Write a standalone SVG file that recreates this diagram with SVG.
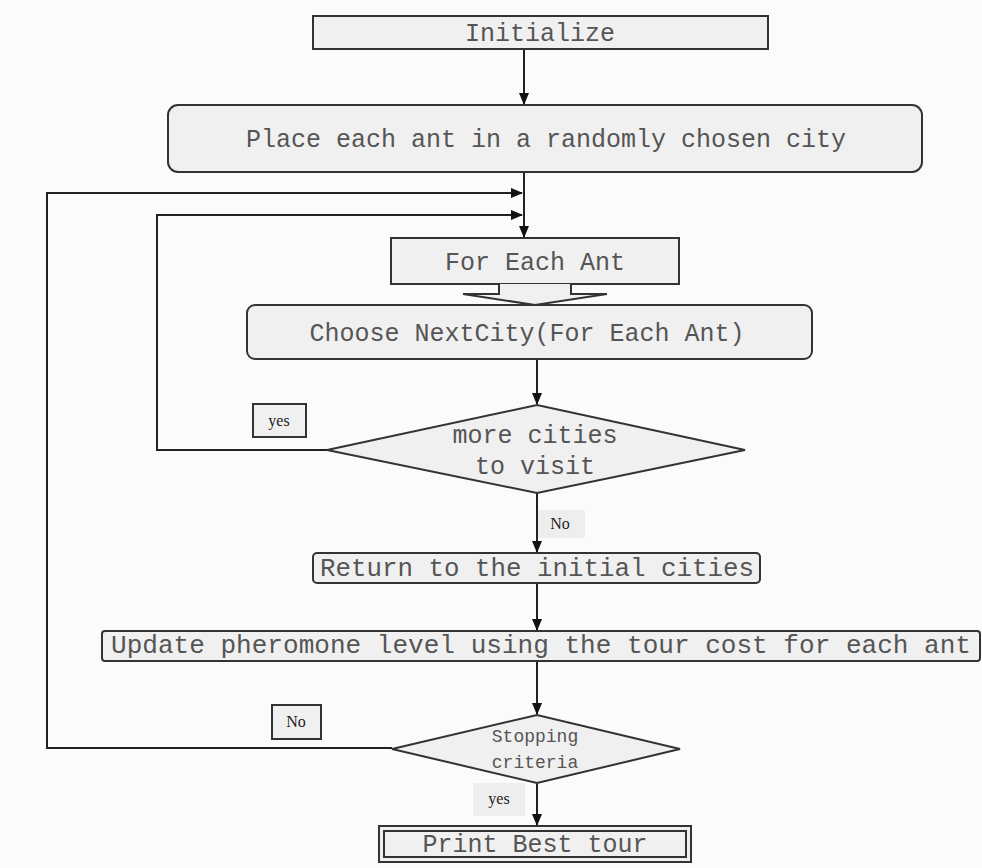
<svg xmlns="http://www.w3.org/2000/svg" width="982" height="868" viewBox="0 0 982 868">
<defs>
<marker id="ah" markerWidth="12" markerHeight="10" refX="11" refY="5" orient="auto" markerUnits="userSpaceOnUse">
<path d="M0,0 L12,5 L0,10 Z" fill="#111"/>
</marker>
<style>
.box{fill:#f0f0f0;stroke:#333;stroke-width:2}
.t{font-family:"Liberation Mono","Courier New",monospace;fill:#555;text-anchor:middle}
.lbl{font-family:"Liberation Serif","Times New Roman",serif;font-size:16px;fill:#222;text-anchor:middle}
.c{fill:none;stroke:#222;stroke-width:2}
</style>
</defs>
<rect width="982" height="868" fill="#fbfbfb"/>
<g id="connectors">
<path class="c" d="M524,49 V104" marker-end="url(#ah)"/>
<path class="c" d="M524,172 V237" marker-end="url(#ah)"/>
<path class="c" d="M392,748 H47 V193 H522" marker-end="url(#ah)"/>
<path class="c" d="M327,450 H157 V215 H522" marker-end="url(#ah)"/>
<path class="c" d="M537,359 V404" marker-end="url(#ah)"/>
<path class="c" d="M537,493 V552" marker-end="url(#ah)"/>
<path class="c" d="M537,583 V630" marker-end="url(#ah)"/>
<path class="c" d="M537,661 V714" marker-end="url(#ah)"/>
<path class="c" d="M537,783 V825" marker-end="url(#ah)"/>
</g>
<g id="initialize">
<rect class="box" x="313" y="16" width="455" height="33"/>
<text class="t" x="540" y="41" font-size="25">Initialize</text>
</g>
<g id="place">
<rect class="box" x="168" y="105" width="754" height="67" rx="10"/>
<text class="t" x="546" y="147" font-size="25">Place each ant in a randomly chosen city</text>
</g>
<g id="for-each-ant">
<rect class="box" x="391" y="238" width="288" height="46"/>
<text class="t" x="535" y="270" font-size="25">For Each Ant</text>
<path d="M499,284 V294 H463 L535,305 L607,294 H571 V284" fill="#f0f0f0" stroke="#333" stroke-width="2"/>
</g>
<g id="choose">
<rect class="box" x="247" y="305" width="565" height="54" rx="8"/>
<text class="t" x="527" y="341" font-size="25">Choose NextCity(For Each Ant)</text>
</g>
<g id="more-cities">
<polygon class="box" points="327,450 537,405 745,450 537,493"/>
<text class="t" x="535" y="443" font-size="25">more cities</text>
<text class="t" x="535" y="474" font-size="25">to visit</text>
</g>
<g id="label-yes1">
<rect x="253" y="404" width="53" height="33" fill="#f0f0f0" stroke="#333" stroke-width="2"/>
<text class="lbl" x="279" y="426">yes</text>
</g>
<g id="label-no1">
<rect x="538" y="510" width="47" height="28" fill="#eeeeee"/>
<text class="lbl" x="560" y="529">No</text>
</g>
<g id="return">
<rect class="box" x="313" y="553" width="447" height="30" rx="4"/>
<text class="t" x="537" y="576" font-size="26" textLength="434" lengthAdjust="spacingAndGlyphs">Return to the initial cities</text>
</g>
<g id="update">
<rect class="box" x="102" y="631" width="878" height="30" rx="3"/>
<text class="t" x="541" y="653" font-size="26" textLength="860" lengthAdjust="spacingAndGlyphs">Update pheromone level using the tour cost for each ant</text>
</g>
<g id="stopping">
<polygon class="box" points="392,749 537,715 680,749 537,783"/>
<text class="t" x="535" y="742" font-size="18">Stopping</text>
<text class="t" x="535" y="768" font-size="18">criteria</text>
</g>
<g id="label-no2">
<rect x="272" y="705" width="49" height="34" fill="#f0f0f0" stroke="#333" stroke-width="2"/>
<text class="lbl" x="296" y="727">No</text>
</g>
<g id="label-yes2">
<rect x="473" y="783" width="52" height="33" fill="#eeeeee"/>
<text class="lbl" x="499" y="804">yes</text>
</g>
<g id="print">
<rect class="box" x="379" y="826" width="312" height="36"/>
<rect x="384" y="831" width="302" height="26" fill="none" stroke="#333" stroke-width="2"/>
<text class="t" x="535" y="852" font-size="25">Print Best tour</text>
</g>
</svg>
